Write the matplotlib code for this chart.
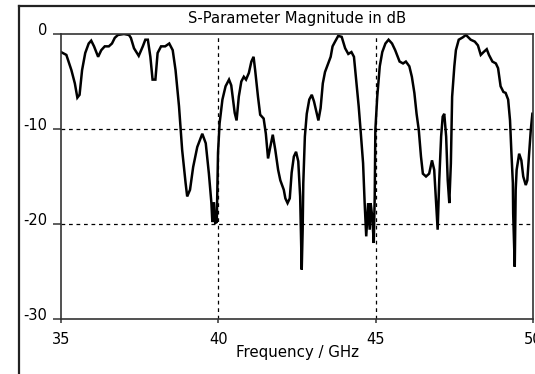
import matplotlib
matplotlib.use("Agg")
import matplotlib.pyplot as plt
from matplotlib.lines import Line2D
from matplotlib.transforms import ScaledTranslation

# S-parameter trace, frequency in GHz and magnitude in dB
freq_ghz = [
    35.00, 35.17, 35.33, 35.44, 35.52, 35.59, 35.67, 35.77, 35.88, 35.96,
    36.05, 36.18, 36.28, 36.39, 36.52, 36.62, 36.71, 36.81, 37.00, 37.16,
    37.22, 37.32, 37.47, 37.60, 37.68, 37.76, 37.84, 37.91, 38.00, 38.07,
    38.18, 38.31, 38.44, 38.55, 38.64, 38.75, 38.85, 38.96, 39.01, 39.10,
    39.20, 39.33, 39.49, 39.60, 39.70, 39.78, 39.81, 39.86, 39.90, 39.95,
    39.99, 40.04, 40.13, 40.23, 40.34, 40.41, 40.52, 40.58, 40.65, 40.73,
    40.81, 40.88, 40.97, 41.05, 41.12, 41.17, 41.26, 41.33, 41.44, 41.51,
    41.58, 41.65, 41.73, 41.81, 41.90, 41.97, 42.08, 42.13, 42.20, 42.27,
    42.33, 42.40, 42.47, 42.54, 42.60, 42.65, 42.68, 42.70, 42.75, 42.81,
    42.89, 42.97, 43.04, 43.13, 43.18, 43.25, 43.32, 43.39, 43.49, 43.57,
    43.63, 43.71, 43.81, 43.92, 44.03, 44.13, 44.23, 44.31, 44.38, 44.46,
    44.52, 44.60, 44.65, 44.70, 44.76, 44.81, 44.84, 44.89, 44.94, 44.97,
    44.99, 45.05, 45.13, 45.21, 45.31, 45.41, 45.52, 45.62, 45.76, 45.87,
    45.96, 46.07, 46.15, 46.23, 46.30, 46.37, 46.44, 46.50, 46.60, 46.70,
    46.79, 46.86, 46.92, 46.97, 47.02, 47.08, 47.13, 47.18, 47.24, 47.29,
    47.34, 47.39, 47.43, 47.50, 47.55, 47.64, 47.77, 47.87, 47.93, 48.02,
    48.15, 48.25, 48.34, 48.43, 48.53, 48.60, 48.71, 48.82, 48.89, 48.97,
    49.06, 49.13, 49.21, 49.27, 49.31, 49.36, 49.37, 49.42, 49.45, 49.48,
    49.56, 49.63, 49.69, 49.77, 49.82, 49.87, 49.93, 49.98,
]
mag_db = [
    -1.9, -2.2, -3.8, -5.2, -6.7, -6.4, -3.8, -2.0, -1.0, -0.7,
    -1.3, -2.4, -1.7, -1.3, -1.3, -1.0, -0.4, -0.1, 0.0, -0.1,
    -0.4, -1.5, -2.3, -1.3, -0.6, -0.6, -2.4, -4.8, -4.8, -2.0,
    -1.3, -1.3, -1.0, -1.7, -3.8, -7.6, -12.2, -15.7, -17.1, -16.4,
    -14.0, -11.9, -10.5, -11.5, -14.7, -17.8, -19.8, -17.7, -19.9, -19.8,
    -12.5, -9.4, -6.9, -5.5, -4.8, -5.4, -8.3, -9.1, -6.6, -5.0,
    -4.5, -4.8, -4.1, -2.9, -2.4, -3.8, -6.6, -8.5, -8.9, -10.5,
    -13.1, -11.9, -10.6, -12.2, -14.3, -15.4, -16.4, -17.3, -17.8, -17.3,
    -14.6, -12.9, -12.4, -13.4, -17.1, -24.8, -20.6, -15.7, -10.8, -8.4,
    -6.9, -6.4, -7.1, -8.4, -9.1, -7.8, -5.2, -4.0, -3.1, -2.4,
    -1.3, -0.8, -0.2, -0.3, -1.5, -2.1, -1.9, -2.4, -4.8, -7.6,
    -10.1, -13.6, -17.8, -21.3, -17.8, -20.6, -17.8, -19.2, -22.0, -17.1,
    -10.1, -6.6, -3.4, -1.9, -1.0, -0.6, -1.0, -1.7, -2.9, -3.1,
    -2.9, -3.4, -4.5, -6.2, -8.4, -10.1, -12.9, -14.7, -15.0, -14.7,
    -13.3, -14.3, -17.8, -20.6, -15.4, -10.8, -8.7, -8.4, -10.8, -15.4,
    -17.8, -13.6, -6.6, -3.4, -1.7, -0.6, -0.35, -0.1, -0.3, -0.6,
    -0.8, -1.2, -2.2, -1.9, -1.6, -2.2, -2.9, -3.1, -3.6, -5.5,
    -6.1, -6.2, -6.9, -9.1, -12.2, -15.7, -18.9, -24.5, -16.4, -14.3,
    -12.6, -13.3, -15.0, -15.9, -15.4, -12.9, -10.1, -8.4,
]
x_ticks = [35, 40, 45, 50]
y_ticks = [0, -10, -20, -30]

plt.rcParams['font.family'] = ['DejaVu Sans']
plt.rcParams['axes.unicode_minus'] = False

fig = plt.figure(figsize=(5.35, 3.74), dpi=100)
ax = fig.add_axes([61 / 535, 1 - 319 / 374, 472 / 535, 285 / 374])

ax.plot(freq_ghz, mag_db, color='black', lw=1.8, solid_joinstyle='miter')

ax.set_xlim(35, 50)
ax.set_ylim(-30, 0)
ax.set_xticks(x_ticks)
ax.set_yticks(y_ticks)

# dashed grid only at the inner ticks
for yv in (-10, -20):
    ax.axhline(yv, color='black', lw=0.9, ls=(0, (3, 3)), zorder=0)
for xv in (40, 45):
    ax.axvline(xv, color='black', lw=0.9, ls=(0, (3, 3)), zorder=0)

for side in ('left', 'right', 'top', 'bottom'):
    ax.spines[side].set_color('#333333')
    ax.spines[side].set_linewidth(1.2)

ax.tick_params(axis='y', length=6, width=1.1, color='#333333', pad=4, labelsize=10.5)
ax.tick_params(axis='x', length=3, width=1.1, color='#333333', pad=6, labelsize=10.5)

# y labels sit a little above their grid lines
shift = ScaledTranslation(0, 5 / 100, fig.dpi_scale_trans)
for lbl in ax.get_yticklabels():
    lbl.set_transform(lbl.get_transform() + shift)

fig.text(297 / 535, 1 - 19 / 374, 'S-Parameter Magnitude in dB',
         ha='center', va='center', fontsize=10.6)
fig.text(297 / 535, 1 - 353 / 374, 'Frequency / GHz',
         ha='center', va='center', fontsize=10.8)

# outer frame of the plot window
fig.add_artist(Line2D([19 / 535, 1.0], [1 - 6 / 374, 1 - 6 / 374],
                      transform=fig.transFigure, color='#222222', lw=1.6))
fig.add_artist(Line2D([19 / 535, 19 / 535], [0.0, 1 - 6 / 374],
                      transform=fig.transFigure, color='#222222', lw=1.6))

fig.savefig('out.png', dpi=100)
